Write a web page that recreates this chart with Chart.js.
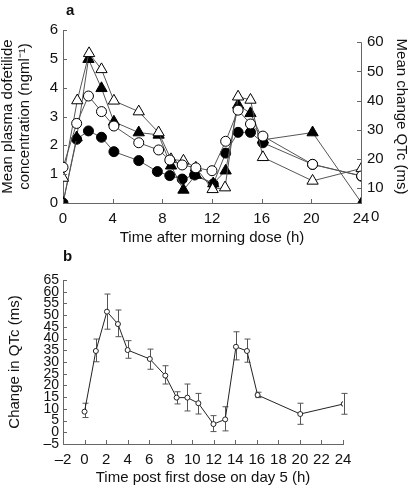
<!DOCTYPE html>
<html>
<head>
<meta charset="utf-8">
<script src="https://cdn.jsdelivr.net/npm/chart.js@4/dist/chart.umd.min.js"></script>
<style>
  body { margin: 0; background: #fff; }
  canvas { position: absolute; left: 0; }
  #top { top: 0; }
  #bottom { top: 250px; }
</style>
</head>
<body>
<canvas id="top" width="416" height="250"></canvas>
<canvas id="bottom" width="416" height="239"></canvas>
<script>
// panel a: plasma concentration (ng/ml, left axis) and QTc change (ms, right axis)
const hoursConcD1 = [0, 1.1, 2.05, 3.1, 4.1, 6.1, 7.6, 8.6, 9.6, 10.6, 12.1, 13.1, 14.1, 15.1, 16.1, 20.1, 24.05];
const concD1 = [0, 2.21, 2.5, 2.28, 1.78, 1.47, 1.09, 0.95, 0.83, 0.97, 0.66, 1.73, 2.45, 2.45, 2.09, 1.34, 0.93];
const hoursConcD5 = [0, 1.1, 2.05, 3.1, 4.1, 6.1, 7.7, 8.6, 9.6, 10.7, 12.0, 13.1, 14.1, 15.1, 16.1, 20.1, 24.05];
const concD5 = [1.24, 2.76, 3.71, 3.17, 2.67, 2.09, 1.84, 1.49, 1.32, 1.22, 1.12, 2.14, 3.22, 2.74, 2.32, 1.34, 0.94];
const hoursQtcD1 = [0, 1.1, 2.05, 3.1, 4.1, 6.1, 7.7, 8.7, 9.7, 10.7, 12.1, 13.1, 14.1, 15.1, 16.1, 20.1, 24.05];
const qtcD1 = [4.8, 27.3, 54.2, 44.2, 32.7, 29.0, 28.2, 17.6, 9.3, 14.4, 11.5, 15.9, 38.5, 35.6, 26.5, 29.0, 4.8];
const hoursQtcD5 = [0, 1.15, 2.1, 3.1, 4.1, 6.1, 7.7, 8.7, 9.7, 10.7, 12.05, 13.05, 14.1, 15.1, 16.1, 20.1, 24.05];
const qtcD5 = [13.4, 40.0, 56.2, 50.7, 39.9, 36.2, 29.0, 19.8, 19.3, 16.9, 9.5, 10.1, 41.3, 40.2, 20.5, 12.4, 16.7];
const xTicksA = [0, 4, 8, 12, 16, 20, 24];
const rightTicksA = [10, 20, 30, 40, 50, 60];

// panel b: change in QTc with error bars
const hoursB = [0, 1.05, 2.08, 3.1, 4.0, 6.06, 7.5, 8.55, 9.55, 10.57, 11.97, 13.06, 14.06, 15.08, 16.07, 20.03, 24.07];
const qtcB = [8.8, 34.7, 51.5, 46.2, 35.1, 31.3, 24.2, 14.8, 14.8, 12.4, 3.5, 5.5, 36.5, 34.7, 15.9, 7.8, 12.1];
const qtcBHigh = [12.4, 39.8, 59.0, 52.2, 39.1, 35.5, 28.4, 17.3, 20.6, 16.6, 7.1, 10.9, 42.9, 39.8, 17.1, 12.4, 16.6];
const qtcBLow = [6.3, 30.1, 44.0, 40.8, 31.6, 26.9, 20.6, 12.1, 9.1, 7.8, 0.3, 0.6, 30.9, 29.9, 14.8, 3.4, 7.7];

const FONT = '"Liberation Sans", Arial, Helvetica, sans-serif';
const axisColor = '#666';
const lineColor = '#555';
const textColor = '#111';

const pts = (xs, ys) => xs.map((x, i) => ({x: x, y: ys[i]}));
const dash = v => String(v).replace('-', '\u2013');
const noGrid = {display: false, drawTicks: false};

// ticks point into the plot area
const innerTicks = {
  id: 'innerTicks',
  afterDatasetsDraw(chart) {
    const {ctx, chartArea} = chart;
    ctx.save();
    ctx.strokeStyle = axisColor;
    ctx.lineWidth = 1;
    Object.values(chart.scales).forEach(scale => {
      scale.ticks.forEach(t => {
        const p = Math.round(scale.getPixelForValue(t.value)) + 0.5;
        ctx.beginPath();
        if (scale.isHorizontal()) {
          ctx.moveTo(p, chartArea.bottom);
          ctx.lineTo(p, chartArea.bottom - 4);
        } else if (scale.position === 'left') {
          ctx.moveTo(chartArea.left, p);
          ctx.lineTo(chartArea.left + 4, p);
        } else {
          ctx.moveTo(chartArea.right, p);
          ctx.lineTo(chartArea.right - 4, p);
        }
        ctx.stroke();
      });
    });
    ctx.restore();
  }
};

// right axis line starts at 60, and its 0 label sits below the x axis
const rightAxisExtras = {
  id: 'rightAxisExtras',
  afterDraw(chart) {
    const {ctx, chartArea} = chart;
    const s = chart.scales.y2;
    if (!s) return;
    ctx.save();
    ctx.strokeStyle = axisColor;
    ctx.lineWidth = 1;
    const x = chartArea.right + 0.5;
    ctx.beginPath();
    ctx.moveTo(x, s.getPixelForValue(60));
    ctx.lineTo(x, chartArea.bottom);
    ctx.stroke();
    ctx.fillStyle = textColor;
    ctx.font = '15px ' + FONT;
    ctx.textAlign = 'left';
    ctx.textBaseline = 'middle';
    ctx.fillText('0', chartArea.right + 10, s.getPixelForValue(0));
    ctx.restore();
  }
};

const panelLetter = {
  id: 'panelLetter',
  afterDraw(chart, args, opts) {
    const {ctx, chartArea} = chart;
    ctx.save();
    ctx.fillStyle = textColor;
    ctx.font = 'bold 15px ' + FONT;
    ctx.textAlign = 'left';
    ctx.textBaseline = 'middle';
    ctx.fillText(opts.text, chartArea.left + opts.dx, opts.y);
    ctx.restore();
  }
};

const errorBars = {
  id: 'errorBars',
  beforeDatasetsDraw(chart) {
    const {ctx} = chart;
    const xs = chart.scales.x, ys = chart.scales.y;
    ctx.save();
    ctx.strokeStyle = '#555';
    ctx.lineWidth = 1;
    hoursB.forEach((h, i) => {
      const x = Math.round(xs.getPixelForValue(h)) + 0.5;
      const y1 = ys.getPixelForValue(qtcBHigh[i]);
      const y2 = ys.getPixelForValue(qtcBLow[i]);
      ctx.beginPath();
      ctx.moveTo(x, y1); ctx.lineTo(x, y2);
      ctx.moveTo(x - 3, y1); ctx.lineTo(x + 3, y1);
      ctx.moveTo(x - 3, y2); ctx.lineTo(x + 3, y2);
      ctx.stroke();
    });
    ctx.restore();
  }
};

Chart.defaults.font.family = FONT;
Chart.defaults.color = textColor;
Chart.defaults.animation = false;
Chart.defaults.plugins.legend.display = false;
Chart.defaults.plugins.tooltip.enabled = false;

const series = (data, axis, style, fill) => ({
  data: data,
  yAxisID: axis,
  showLine: true,
  borderColor: lineColor,
  borderWidth: 1,
  pointStyle: style,
  pointRadius: style === 'triangle' ? 6.5 : 5,
  pointBackgroundColor: fill,
  pointBorderColor: '#000',
  pointBorderWidth: 1
});

// render panel a
const chartA = new Chart(document.getElementById('top'), {
  type: 'scatter',
  data: {
    datasets: [
      series(pts(hoursConcD5, concD5), 'y', 'circle', '#fff'),
      series(pts(hoursQtcD5, qtcD5), 'y2', 'triangle', '#fff'),
      series(pts(hoursQtcD1, qtcD1), 'y2', 'triangle', '#000'),
      series(pts(hoursConcD1, concD1), 'y', 'circle', '#000')
    ]
  },
  options: {
    responsive: false,
    layout: {padding: {top: 30, left: 0, right: 0, bottom: 0}},
    scales: {
      x: {
        type: 'linear', min: 0, max: 24,
        afterBuildTicks: s => { s.ticks = xTicksA.map(v => ({value: v})); },
        afterFit: s => { s.height = 47; },
        grid: noGrid,
        border: {color: axisColor},
        ticks: {padding: 7, font: {size: 15}, maxRotation: 0},
        title: {display: true, text: 'Time after morning dose (h)', font: {size: 15}, padding: {top: 0, bottom: 3}}
      },
      y: {
        position: 'left', min: 0, max: 6,
        ticks: {stepSize: 1, padding: 5, font: {size: 15}},
        afterFit: s => { s.width = 63; },
        grid: noGrid,
        border: {color: axisColor},
        title: {display: true, text: ['Mean plasma dofetilide', 'concentration (ngml\u207B\u00B9)'], font: {size: 15, lineHeight: 1.1}, padding: {top: 0, bottom: 0}}
      },
      y2: {
        position: 'right', min: 4.81, max: 64.22,
        afterBuildTicks: s => { s.ticks = rightTicksA.map(v => ({value: v})); },
        afterFit: s => { s.width = 55; },
        ticks: {padding: 6, font: {size: 15}},
        grid: noGrid,
        border: {display: false},
        title: {display: true, text: 'Mean change QTc (ms)', font: {size: 15}, padding: {top: 6, bottom: 0}}
      }
    },
    plugins: {panelLetter: {text: 'a', dx: 3, y: 11}}
  },
  plugins: [innerTicks, rightAxisExtras, panelLetter]
});

// render panel b
const chartB = new Chart(document.getElementById('bottom'), {
  type: 'scatter',
  data: {
    datasets: [{
      data: pts(hoursB, qtcB),
      showLine: true,
      borderColor: '#222',
      borderWidth: 1,
      pointRadius: 2.5,
      pointBackgroundColor: '#fff',
      pointBorderColor: '#222',
      pointBorderWidth: 1
    }]
  },
  options: {
    responsive: false,
    layout: {padding: {top: 30, left: 0, right: 73, bottom: 0}},
    scales: {
      x: {
        type: 'linear', min: -2, max: 24,
        ticks: {stepSize: 2, padding: 7, font: {size: 15}, maxRotation: 0, autoSkip: false, callback: dash},
        afterFit: s => { s.height = 45; },
        grid: noGrid,
        border: {color: axisColor},
        title: {display: true, text: 'Time post first dose on day 5 (h)', font: {size: 15}, padding: {top: 0, bottom: 2}}
      },
      y: {
        min: -5, max: 65,
        ticks: {stepSize: 5, padding: 4, font: {size: 14}, autoSkip: false, callback: dash},
        afterFit: s => { s.width = 63; },
        grid: noGrid,
        border: {color: axisColor},
        title: {display: true, text: 'Change in QTc (ms)', font: {size: 15}, padding: {top: 6, bottom: 0}}
      }
    },
    plugins: {panelLetter: {text: 'b', dx: 0, y: 7}}
  },
  plugins: [innerTicks, errorBars, panelLetter]
});
</script>
</body>
</html>
